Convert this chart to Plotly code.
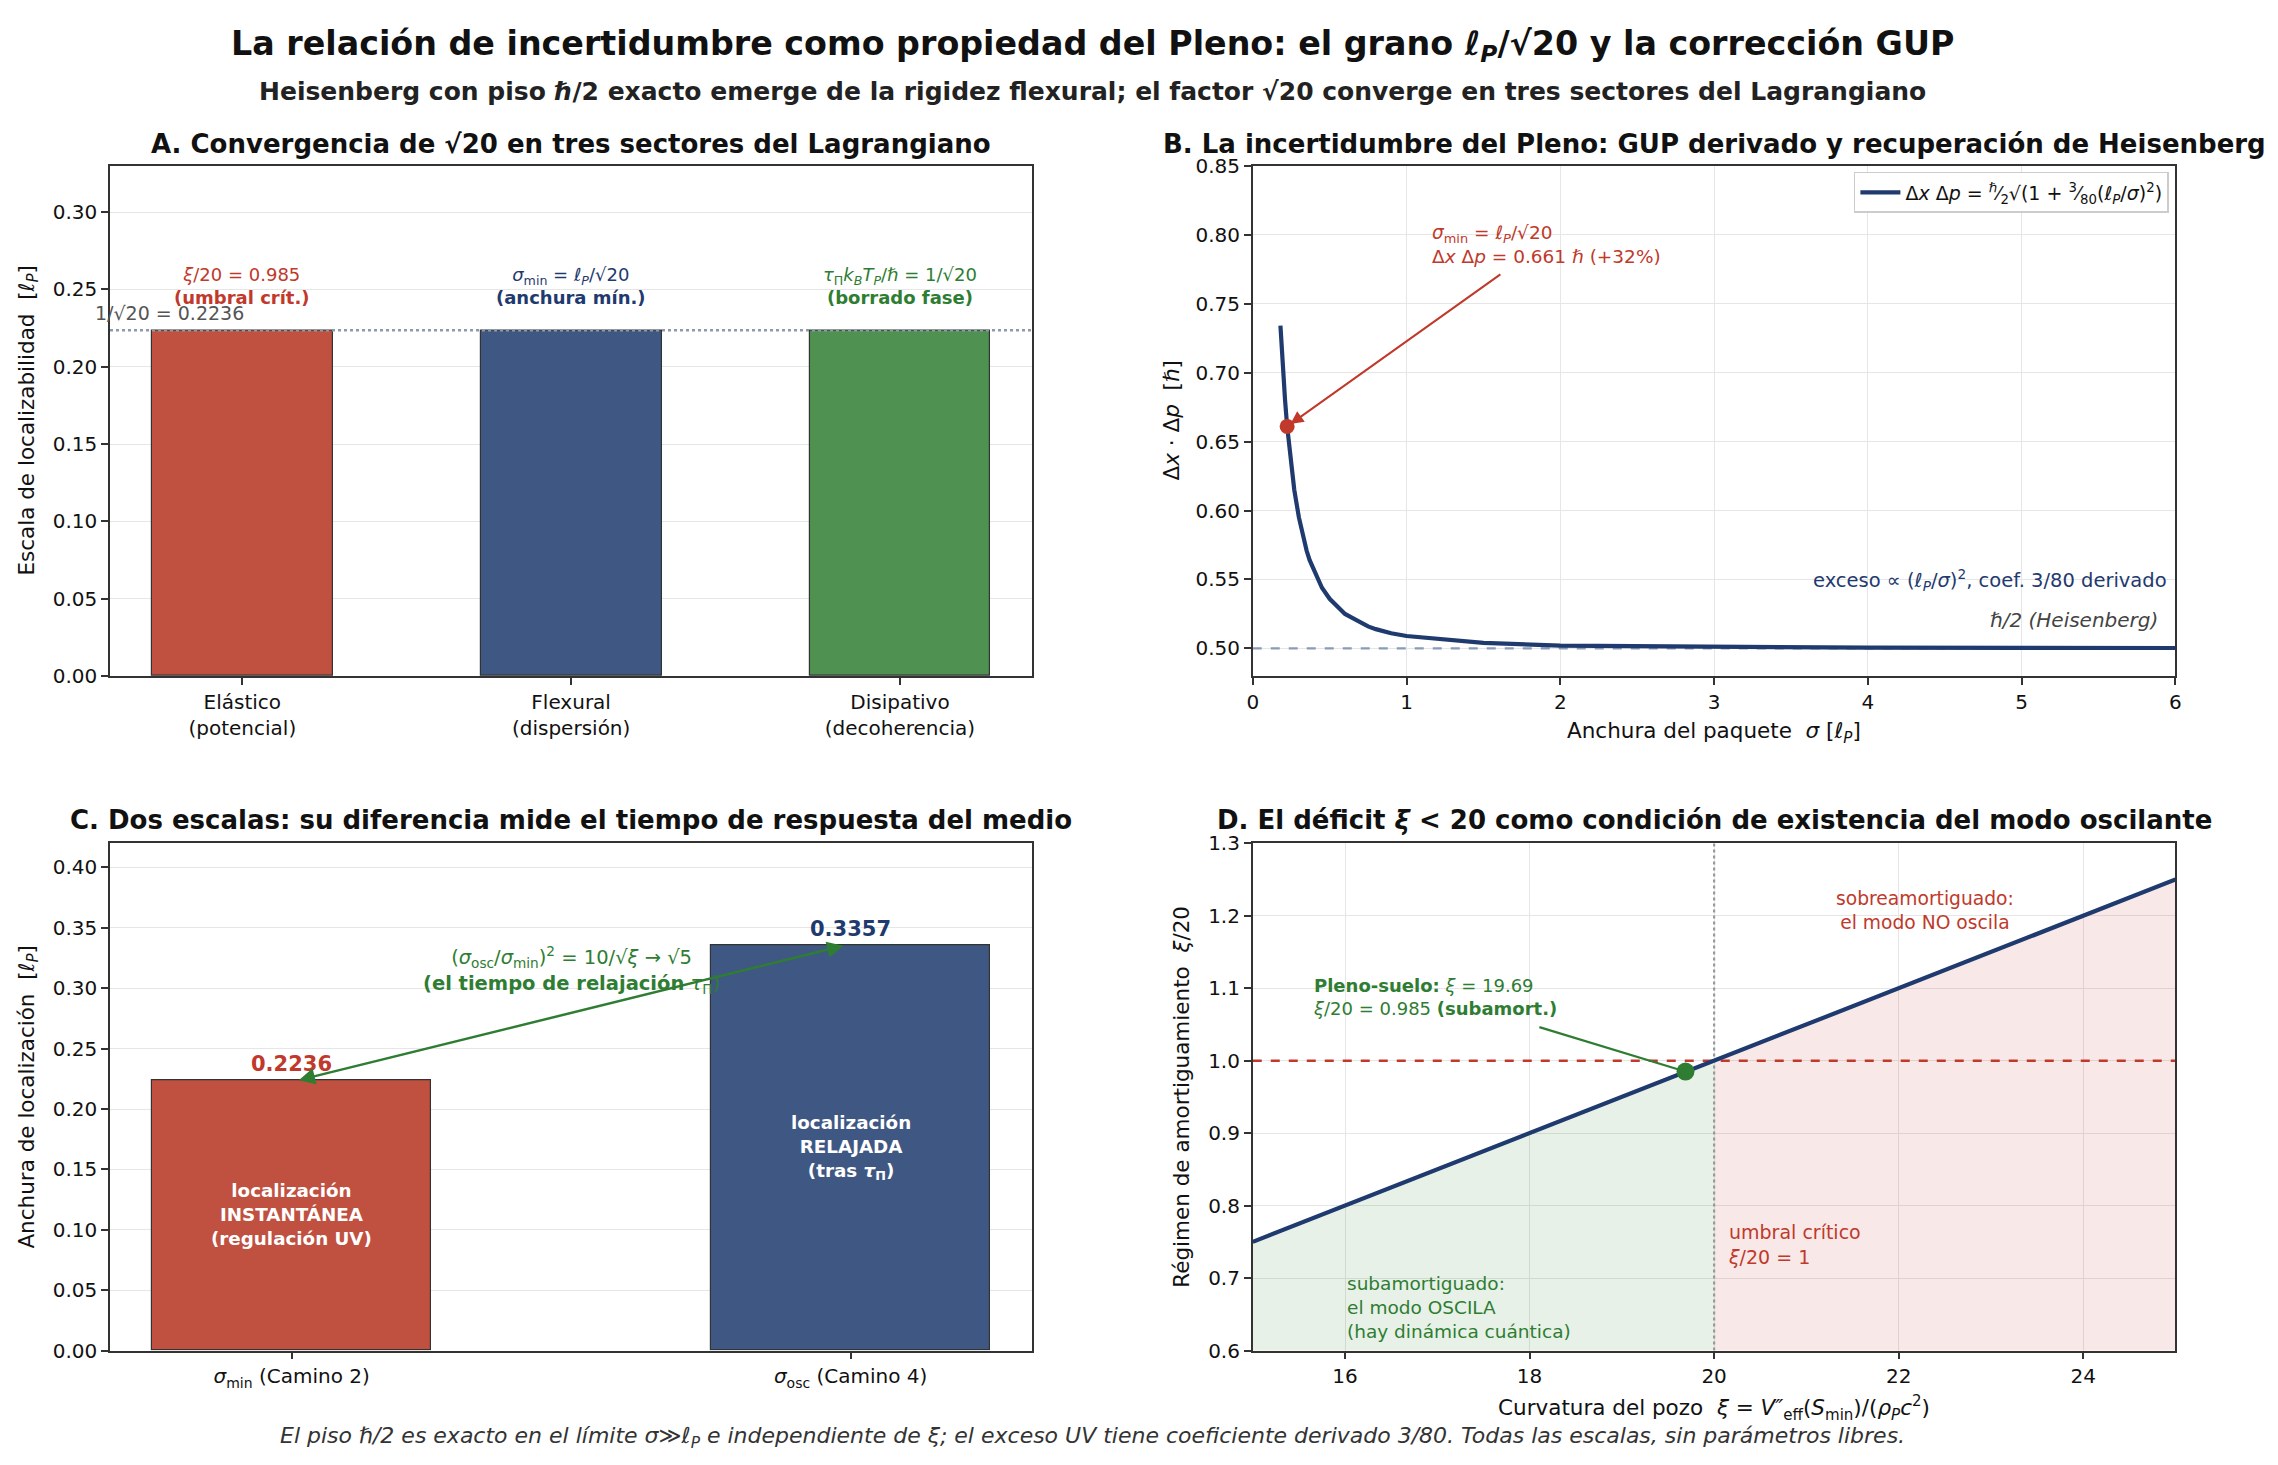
import plotly.graph_objects as go

# ---------------- data ----------------
# Panel A
sectors = ["Elástico<br>(potencial)", "Flexural<br>(dispersión)", "Disipativo<br>(decoherencia)"]
sector_scale = [0.2236, 0.2236, 0.2236]
grain = 0.2236
# Panel B
sigma = [0.18, 0.19, 0.20, 0.21, 0.2236, 0.25, 0.27, 0.30, 0.32, 0.35, 0.37, 0.40, 0.45, 0.50, 0.55, 0.60,
         0.65, 0.70, 0.75, 0.80, 0.90, 1.0, 1.1, 1.25, 1.5, 2.0, 3.0, 4.0, 5.0, 6.0]
dxdp = [0.734, 0.714, 0.696, 0.680, 0.661, 0.632, 0.615, 0.595, 0.584, 0.571, 0.564, 0.556, 0.544, 0.536, 0.530, 0.525,
        0.522, 0.519, 0.516, 0.514, 0.511, 0.509, 0.508, 0.506, 0.504, 0.502, 0.501, 0.5006, 0.5004, 0.5003]
heis = 0.5
sigma_min = 0.2236
dxdp_min = 0.661
# Panel C
paths = ["<i>σ</i><sub>min</sub> (Camino 2)", "<i>σ</i><sub>osc</sub> (Camino 4)"]
loc_width = [0.2236, 0.3357]
# Panel D
xi = [15, 20, 25]
xi_ratio = [0.75, 1.0, 1.25]
xi_floor = 19.69
xi_floor_ratio = 0.985

RED = "#c0392b"
BLUE = "#1f3a6e"
GREEN = "#2e7d32"
FONT = "DejaVu Sans"

fig = go.Figure()

# Panel A bars
fig.add_trace(go.Bar(x=[0, 1, 2], y=sector_scale, width=0.55,
                     marker=dict(color=["#c0503f", "#3f5883", "#4e9150"], line=dict(color="#333", width=1.2)),
                     xaxis="x", yaxis="y", showlegend=False))
fig.add_trace(go.Scatter(x=[-0.4025, 2.4025], y=[grain, grain], mode="lines",
                         line=dict(color="#8f9aa8", width=2.6, dash="dot"),
                         xaxis="x", yaxis="y", showlegend=False))

# Panel B
fig.add_trace(go.Scatter(x=[0, 6], y=[heis, heis], mode="lines",
                         line=dict(color="#8a9bb8", width=2.2, dash="dash"),
                         xaxis="x2", yaxis="y2", showlegend=False))
fig.add_trace(go.Scatter(x=sigma, y=dxdp, mode="lines", line=dict(color=BLUE, width=4.2),
                         name="Δ<i>x</i> Δ<i>p</i> = <sup>ℏ</sup>⁄<sub>2</sub>√(1 + <sup>3</sup>⁄<sub>80</sub>(<i>ℓ<sub>P</sub></i>/<i>σ</i>)<sup>2</sup>)",
                         xaxis="x2", yaxis="y2", showlegend=True))
fig.add_trace(go.Scatter(x=[sigma_min], y=[dxdp_min], mode="markers",
                         marker=dict(color=RED, size=15),
                         xaxis="x2", yaxis="y2", showlegend=False))

# Panel C
fig.add_trace(go.Bar(x=[0, 1], y=loc_width, width=0.5,
                     marker=dict(color=["#c0503f", "#3f5883"], line=dict(color="#333", width=1.2)),
                     xaxis="x3", yaxis="y3", showlegend=False))

# Panel D
fig.add_trace(go.Scatter(x=xi[:2], y=xi_ratio[:2], mode="none", fill="tozeroy",
                         fillcolor="rgba(46,125,50,0.11)", xaxis="x4", yaxis="y4", showlegend=False))
fig.add_trace(go.Scatter(x=xi[1:], y=xi_ratio[1:], mode="none", fill="tozeroy",
                         fillcolor="rgba(192,57,43,0.11)", xaxis="x4", yaxis="y4", showlegend=False))
fig.add_trace(go.Scatter(x=[15, 25], y=[1.0, 1.0], mode="lines",
                         line=dict(color=RED, width=2.6, dash="dash"),
                         xaxis="x4", yaxis="y4", showlegend=False))
fig.add_trace(go.Scatter(x=[20, 20], y=[0.6, 1.3], mode="lines",
                         line=dict(color="#999", width=2.2, dash="dot"),
                         xaxis="x4", yaxis="y4", showlegend=False))
fig.add_trace(go.Scatter(x=xi, y=xi_ratio, mode="lines", line=dict(color=BLUE, width=4.2),
                         xaxis="x4", yaxis="y4", showlegend=False))
fig.add_trace(go.Scatter(x=[xi_floor], y=[xi_floor_ratio], mode="markers",
                         marker=dict(color=GREEN, size=18),
                         xaxis="x4", yaxis="y4", showlegend=False))

XL = [0.0459, 0.4529]
XR = [0.5502, 0.9574]
YT = [0.5392, 0.8933]
YB = [0.0711, 0.4231]

axis_common = dict(showline=True, mirror=True, linecolor="#333", linewidth=1.6,
                   ticks="outside", ticklen=7, tickwidth=1.5, tickcolor="#333",
                   tickfont=dict(family=FONT, size=20, color="#111"),
                   gridcolor="#e6e6e6", gridwidth=1, zeroline=False)

layout = dict(
    width=2278, height=1465, autosize=False,
    margin=dict(l=0, r=0, t=0, b=0, pad=0),
    paper_bgcolor="white", plot_bgcolor="white",
    font=dict(family=FONT, color="#111"),
    bargap=0,
    legend=dict(x=0.9545, y=0.889, xanchor="right", yanchor="top",
                bordercolor="#cccccc", borderwidth=1.5, bgcolor="rgba(255,255,255,0.9)",
                font=dict(family=FONT, size=19, color="#111"), itemwidth=40,
                tracegroupgap=0),
    xaxis=dict(domain=XL, anchor="y", range=[-0.4025, 2.4025], tickvals=[0, 1, 2], ticktext=sectors,
               showgrid=False, **axis_common),
    yaxis=dict(domain=YT, anchor="x", range=[0, 0.33], dtick=0.05, tickformat=".2f", showgrid=True, **axis_common),
    xaxis2=dict(domain=XR, anchor="y2", range=[0, 6], dtick=1, showgrid=True, **axis_common),
    yaxis2=dict(domain=YT, anchor="x2", range=[0.48, 0.85], tickvals=[0.5, 0.55, 0.6, 0.65, 0.7, 0.75, 0.8, 0.85],
                tickformat=".2f", showgrid=True, **axis_common),
    xaxis3=dict(domain=XL, anchor="y3", range=[-0.325, 1.325], tickvals=[0, 1], ticktext=paths,
                showgrid=False, **axis_common),
    yaxis3=dict(domain=YB, anchor="x3", range=[0, 0.42], dtick=0.05, tickformat=".2f", showgrid=True, **axis_common),
    xaxis4=dict(domain=XR, anchor="y4", range=[15, 25], tickvals=[16, 18, 20, 22, 24], showgrid=True, **axis_common),
    yaxis4=dict(domain=YB, anchor="x4", range=[0.6, 1.3], dtick=0.1, tickformat=".1f", showgrid=True, **axis_common),
)
fig.update_layout(**layout)

ann = []
def paper_text(text, x, y, size, color="#111", xanchor="center", yanchor="middle", angle=0):
    ann.append(dict(text=text, x=x, y=y, xref="paper", yref="paper", showarrow=False,
                    xanchor=xanchor, yanchor=yanchor, textangle=angle,
                    font=dict(family=FONT, size=size, color=color)))

def data_text(text, x, y, ax, size, color, xanchor="center", yanchor="middle", align="center"):
    ann.append(dict(text=text, x=x, y=y, xref=ax[0], yref=ax[1], showarrow=False,
                    xanchor=xanchor, yanchor=yanchor, align=align,
                    font=dict(family=FONT, size=size, color=color)))

XLC = (XL[0] + XL[1]) / 2
XRC = (XR[0] + XR[1]) / 2
YTC = (YT[0] + YT[1]) / 2
YBC = (YB[0] + YB[1]) / 2

# Titles
paper_text("<b>La relación de incertidumbre como propiedad del Pleno: el grano <i>ℓ<sub>P</sub></i>/√20 y la corrección GUP</b>",
           0.4793, 0.9767, 33.3, "#111")
paper_text("<b>Heisenberg con piso <i>ℏ</i>/2 exacto emerge de la rigidez flexural; el factor √20 converge en tres sectores del Lagrangiano</b>",
           0.4793, 0.9448, 25, "#222")
paper_text("<i>El piso ℏ/2 es exacto en el límite σ≫ℓ<sub>P</sub> e independiente de ξ; el exceso UV tiene coeficiente derivado 3/80. Todas las escalas, sin parámetros libres.</i>",
           0.4793, 0.0109, 22, "#333")
paper_text("<b>A. Convergencia de √20 en tres sectores del Lagrangiano</b>", XLC, 0.9087, 26)
paper_text("<b>B. La incertidumbre del Pleno: GUP derivado y recuperación de Heisenberg</b>", XRC, 0.9087, 26)
paper_text("<b>C. Dos escalas: su diferencia mide el tiempo de respuesta del medio</b>", XLC, 0.4393, 26)
paper_text("<b>D. El déficit <i>ξ</i> &lt; 20 como condición de existencia del modo oscilante</b>", XRC, 0.4393, 26)

# Axis titles
paper_text("Escala de localizabilidad  [<i>ℓ<sub>P</sub></i>]", 0.0100, YTC, 21.5, angle=-90)
paper_text("Δ<i>x</i> · Δ<i>p</i>  [<i>ℏ</i>]", 0.5144, YTC, 21.5, angle=-90)
paper_text("Anchura de localización  [<i>ℓ<sub>P</sub></i>]", 0.0100, YBC, 21.5, angle=-90)
paper_text("Régimen de amortiguamiento  <i>ξ</i>/20", 0.5189, YBC, 21.5, angle=-90)
paper_text("Anchura del paquete  <i>σ</i> [<i>ℓ<sub>P</sub></i>]", XRC, 0.4997, 21.5)
paper_text("Curvatura del pozo  <i>ξ</i> = <i>V″</i><sub>eff</sub>(<i>S</i><sub>min</sub>)/(<i>ρ<sub>P</sub>c</i><sup>2</sup>)",
           XRC, 0.0310, 21.5)

# Panel A annotations
A = ("x", "y")
data_text("<i>ξ</i>/20 = 0.985<br><b>(umbral crít.)</b>", 0, 0.2525, A, 18, RED)
data_text("<i>σ</i><sub>min</sub> = <i>ℓ<sub>P</sub></i>/√20<br><b>(anchura mín.)</b>", 1, 0.2525, A, 18, BLUE)
data_text("<i>τ</i><sub>Π</sub><i>k<sub>B</sub>T<sub>P</sub></i>/<i>ℏ</i> = 1/√20<br><b>(borrado fase)</b>", 2, 0.2525, A, 18, GREEN)
ann.append(dict(text="1/√20 = 0.2236", x=-0.018, y=grain + 0.0025, xref="x domain", yref="y", showarrow=False,
                xanchor="left", yanchor="bottom", font=dict(family=FONT, size=19, color="#555")))

# Panel B annotations
B = ("x2", "y2")
data_text("<i>σ</i><sub>min</sub> = <i>ℓ<sub>P</sub></i>/√20<br>Δ<i>x</i> Δ<i>p</i> = 0.661 <i>ℏ</i> (+32%)", 1.15, 0.793, B, 18.5, RED,
          xanchor="left", align="left")
ann.append(dict(x=sigma_min, y=dxdp_min, ax=1.62, ay=0.772, xref="x2", yref="y2", axref="x2", ayref="y2",
                text="", showarrow=True, arrowhead=2, arrowsize=1.3, arrowwidth=2, arrowcolor=RED, standoff=4))
data_text("exceso ∝ (<i>ℓ<sub>P</sub></i>/<i>σ</i>)<sup>2</sup>, coef. 3/80 derivado", 5.96, 0.5496, B, 19.5, BLUE, xanchor="right")
data_text("<i>ℏ/2 (Heisenberg)</i>", 5.9, 0.5205, B, 20, "#444", xanchor="right")

# Panel C annotations
C = ("x3", "y3")
data_text("<b>0.2236</b>", 0, loc_width[0] + 0.002, C, 21, RED, yanchor="bottom")
data_text("<b>0.3357</b>", 1, loc_width[1] + 0.002, C, 21, BLUE, yanchor="bottom")
data_text("<b>localización<br>INSTANTÁNEA<br>(regulación UV)</b>", 0, 0.1126, C, 18.3, "white")
data_text("<b>localización<br>RELAJADA<br>(tras <i>τ</i><sub>Π</sub>)</b>", 1, 0.168, C, 18.3, "white")
ann.append(dict(x=0.987, y=0.3352, ax=0.01, ay=0.2236, xref="x3", yref="y3", axref="x3", ayref="y3",
                text="", showarrow=True, arrowhead=2, startarrowhead=2, arrowside="end+start",
                arrowsize=1.3, startarrowsize=1.3, arrowwidth=2.5, arrowcolor=GREEN))
data_text("(<i>σ</i><sub>osc</sub>/<i>σ</i><sub>min</sub>)<sup>2</sup> = 10/√<i>ξ</i> → √5<br><b>(el tiempo de relajación</b> <i>τ</i><sub>Π</sub>)",
          0.5, 0.315, C, 19.5, GREEN)

# Panel D annotations
D = ("x4", "y4")
data_text("<b>Pleno-suelo:</b> <i>ξ</i> = 19.69<br><i>ξ</i>/20 = 0.985 <b>(subamort.)</b>", 15.63, 1.088, D, 18, GREEN,
          xanchor="left", align="left")
ann.append(dict(x=xi_floor, y=xi_floor_ratio, ax=18.09, ay=1.047, xref="x4", yref="y4", axref="x4", ayref="y4",
                text="", showarrow=True, arrowhead=0, arrowwidth=2.2, arrowcolor=GREEN, standoff=8))
data_text("sobreamortiguado:<br>el modo NO oscila", 22.29, 1.207, D, 18.7, RED)
data_text("umbral crítico<br><i>ξ</i>/20 = 1", 20.13, 0.746, D, 19, RED, xanchor="left", align="left")
data_text("subamortiguado:<br>el modo OSCILA<br>(hay dinámica cuántica)", 16.0, 0.66, D, 18.5, GREEN,
          xanchor="left", align="left")

fig.update_layout(annotations=ann)
fig.write_html("out.html")
